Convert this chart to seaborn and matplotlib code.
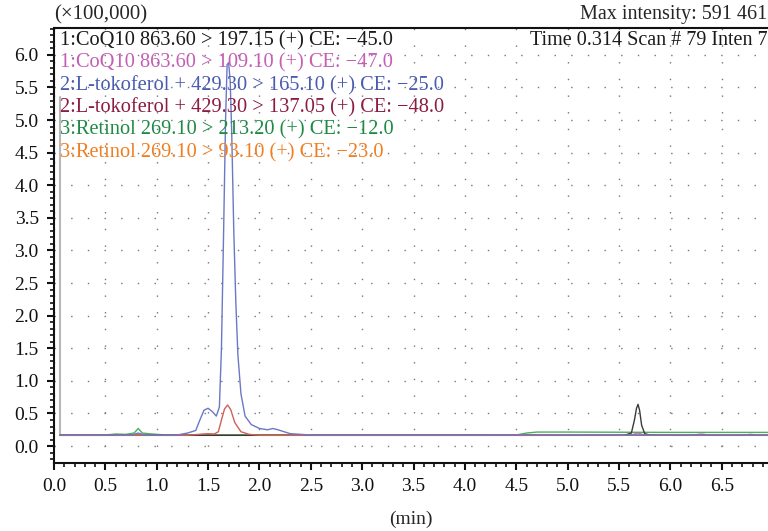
import matplotlib
matplotlib.use("Agg")
import matplotlib.pyplot as plt
import seaborn as sns
import pandas as pd
from matplotlib.ticker import MultipleLocator, FormatStrFormatter

# --- traces (time in min, intensity x100,000) ---
coq10_197_t = [0.06, 0.5, 1.0, 2.0, 3.0, 4.0, 5.0, 5.55, 5.62, 5.65, 5.67, 5.685, 5.70, 5.72, 5.75, 5.80, 6.0, 6.95]
coq10_197_y = [0.165, 0.165, 0.165, 0.165, 0.165, 0.165, 0.165, 0.165, 0.2, 0.4, 0.58, 0.64, 0.55, 0.32, 0.19, 0.17, 0.165, 0.165]

coq10_109_t = [0.06, 1.0, 3.0, 5.3, 5.62, 5.68, 5.75, 5.85, 6.2, 6.3, 6.4, 6.7, 6.78, 6.86, 6.95]
coq10_109_y = [0.165, 0.165, 0.165, 0.165, 0.17, 0.2, 0.17, 0.165, 0.165, 0.185, 0.165, 0.165, 0.18, 0.165, 0.165]

toko_165_t = [0.06, 0.5, 0.76, 0.82, 0.88, 1.0, 1.2, 1.3, 1.38, 1.42, 1.46, 1.50, 1.54, 1.58, 1.61,
              1.63, 1.65, 1.67, 1.685, 1.70, 1.715, 1.73, 1.75, 1.77, 1.79, 1.82, 1.86, 1.92, 2.0, 2.08,
              2.13, 2.18, 2.3, 2.5, 4.0, 4.6, 4.8, 5.0, 6.95]
toko_165_y = [0.17, 0.17, 0.17, 0.2, 0.17, 0.165, 0.17, 0.2, 0.24, 0.4, 0.55, 0.58, 0.53, 0.46, 0.6,
              1.5, 3.2, 5.0, 5.85, 5.88, 5.6, 4.8, 3.3, 2.2, 1.4, 0.8, 0.46, 0.33, 0.27, 0.25,
              0.27, 0.25, 0.19, 0.17, 0.17, 0.175, 0.175, 0.17, 0.17]

toko_137_t = [0.06, 1.3, 1.45, 1.5, 1.56, 1.6, 1.63, 1.66, 1.69, 1.72, 1.76, 1.82, 1.9, 2.0, 6.95]
toko_137_y = [0.165, 0.165, 0.185, 0.19, 0.185, 0.22, 0.4, 0.57, 0.63, 0.56, 0.36, 0.22, 0.18, 0.165, 0.165]

retinol_213_t = [0.06, 0.5, 0.6, 0.7, 0.78, 0.82, 0.86, 0.92, 1.0, 1.1, 4.5, 4.6, 4.7, 5.0, 6.0, 6.95]
retinol_213_y = [0.17, 0.17, 0.185, 0.18, 0.2, 0.27, 0.2, 0.19, 0.18, 0.17, 0.17, 0.2, 0.215, 0.215, 0.21, 0.21]

retinol_93_t = [0.06, 1.4, 1.5, 1.6, 6.95]
retinol_93_y = [0.165, 0.17, 0.18, 0.17, 0.165]

start_t = [0.06, 0.06]
start_y = [5.35, 0.17]

legend_lines = [
    "1:CoQ10 863.60 > 197.15 (+) CE: \u221245.0",
    "1:CoQ10 863.60 > 109.10 (+) CE: \u221247.0",
    "2:L-tokoferol + 429.30 > 165.10 (+) CE: \u221225.0",
    "2:L-tokoferol + 429.30 > 137.05 (+) CE: \u221248.0",
    "3:Retinol 269.10 > 213.20 (+) CE: \u221212.0",
    "3:Retinol 269.10 > 93.10 (+) CE: \u221223.0",
]
text_colors = ["#1a1a1a", "#c45fb4", "#4a5cb0", "#8c1d40", "#1e8a45", "#f07f22"]
line_colors = ["#3a3a3a", "#d070c0", "#6b78c4", "#d0605a", "#4caf5a", "#f09040"]

traces = [
    (coq10_197_t, coq10_197_y),
    (coq10_109_t, coq10_109_y),
    (toko_165_t, toko_165_y),
    (toko_137_t, toko_137_y),
    (retinol_213_t, retinol_213_y),
    (retinol_93_t, retinol_93_y),
]

sns.set_style("white")
plt.rcParams['font.family'] = ['Liberation Serif', 'DejaVu Serif']

fig = plt.figure(figsize=(7.68, 5.31), dpi=100)
ax = fig.add_axes([0.0703, 0.128, 0.9297, 0.819])

sns.lineplot(x=start_t, y=start_y, color="#b8b8b8", lw=1.5, sort=False, estimator=None, ax=ax)
draw_order = [5, 1, 4, 0, 3, 2]
for i in draw_order:
    t, y = traces[i]
    df = pd.DataFrame({"t": t, "y": y})
    sns.lineplot(data=df, x="t", y="y", color=line_colors[i], lw=1.0, sort=False, estimator=None, ax=ax)

ax.set_xlim(0, 6.95)
ax.set_ylim(-0.26, 6.41)
ax.xaxis.set_major_locator(MultipleLocator(0.5))
ax.xaxis.set_minor_locator(MultipleLocator(0.1))
ax.yaxis.set_major_locator(MultipleLocator(0.5))
ax.yaxis.set_minor_locator(MultipleLocator(0.1))
ax.xaxis.set_major_formatter(FormatStrFormatter('%.1f'))
ax.yaxis.set_major_formatter(FormatStrFormatter('%.1f'))
ax.tick_params(which='major', direction='out', length=5, width=1.5, labelsize=14, colors='#111111')
ax.tick_params(which='minor', direction='out', length=3, width=1.2, colors='#111111')
ax.tick_params(axis='x', which='both', bottom=True)
ax.tick_params(axis='x', which='major', pad=6)
ax.tick_params(axis='y', which='both', left=True)
ax.tick_params(axis='y', which='major', pad=6)
ax.grid(True, which='major', color='#777777', linestyle=(0, (1, 11)), linewidth=1.0)

for side in ['left', 'bottom', 'top']:
    ax.spines[side].set_color('#111111')
    ax.spines[side].set_linewidth(1.5)
ax.spines['right'].set_visible(False)

ax.set_xlabel("(min)", fontsize=14, labelpad=11)
ax.set_ylabel("")

fig.text(0.0703, 0.972, "(\u00d7100,000)", fontsize=15, ha='left', va='center')
fig.text(0.999, 0.972, "Max intensity: 591 461", fontsize=14.5, ha='right', va='center')

y0 = 0.971
step = 0.0515
for k, (txt, col) in enumerate(zip(legend_lines, text_colors)):
    ax.text(0.0084, y0 - k * step, txt, color=col, fontsize=14.7, ha='left', va='center', transform=ax.transAxes)
ax.text(1.0, y0, "Time 0.314 Scan # 79 Inten 7", color="#1a1a1a", fontsize=14.5,
        ha='right', va='center', transform=ax.transAxes)

fig.savefig("out.png", dpi=100)
